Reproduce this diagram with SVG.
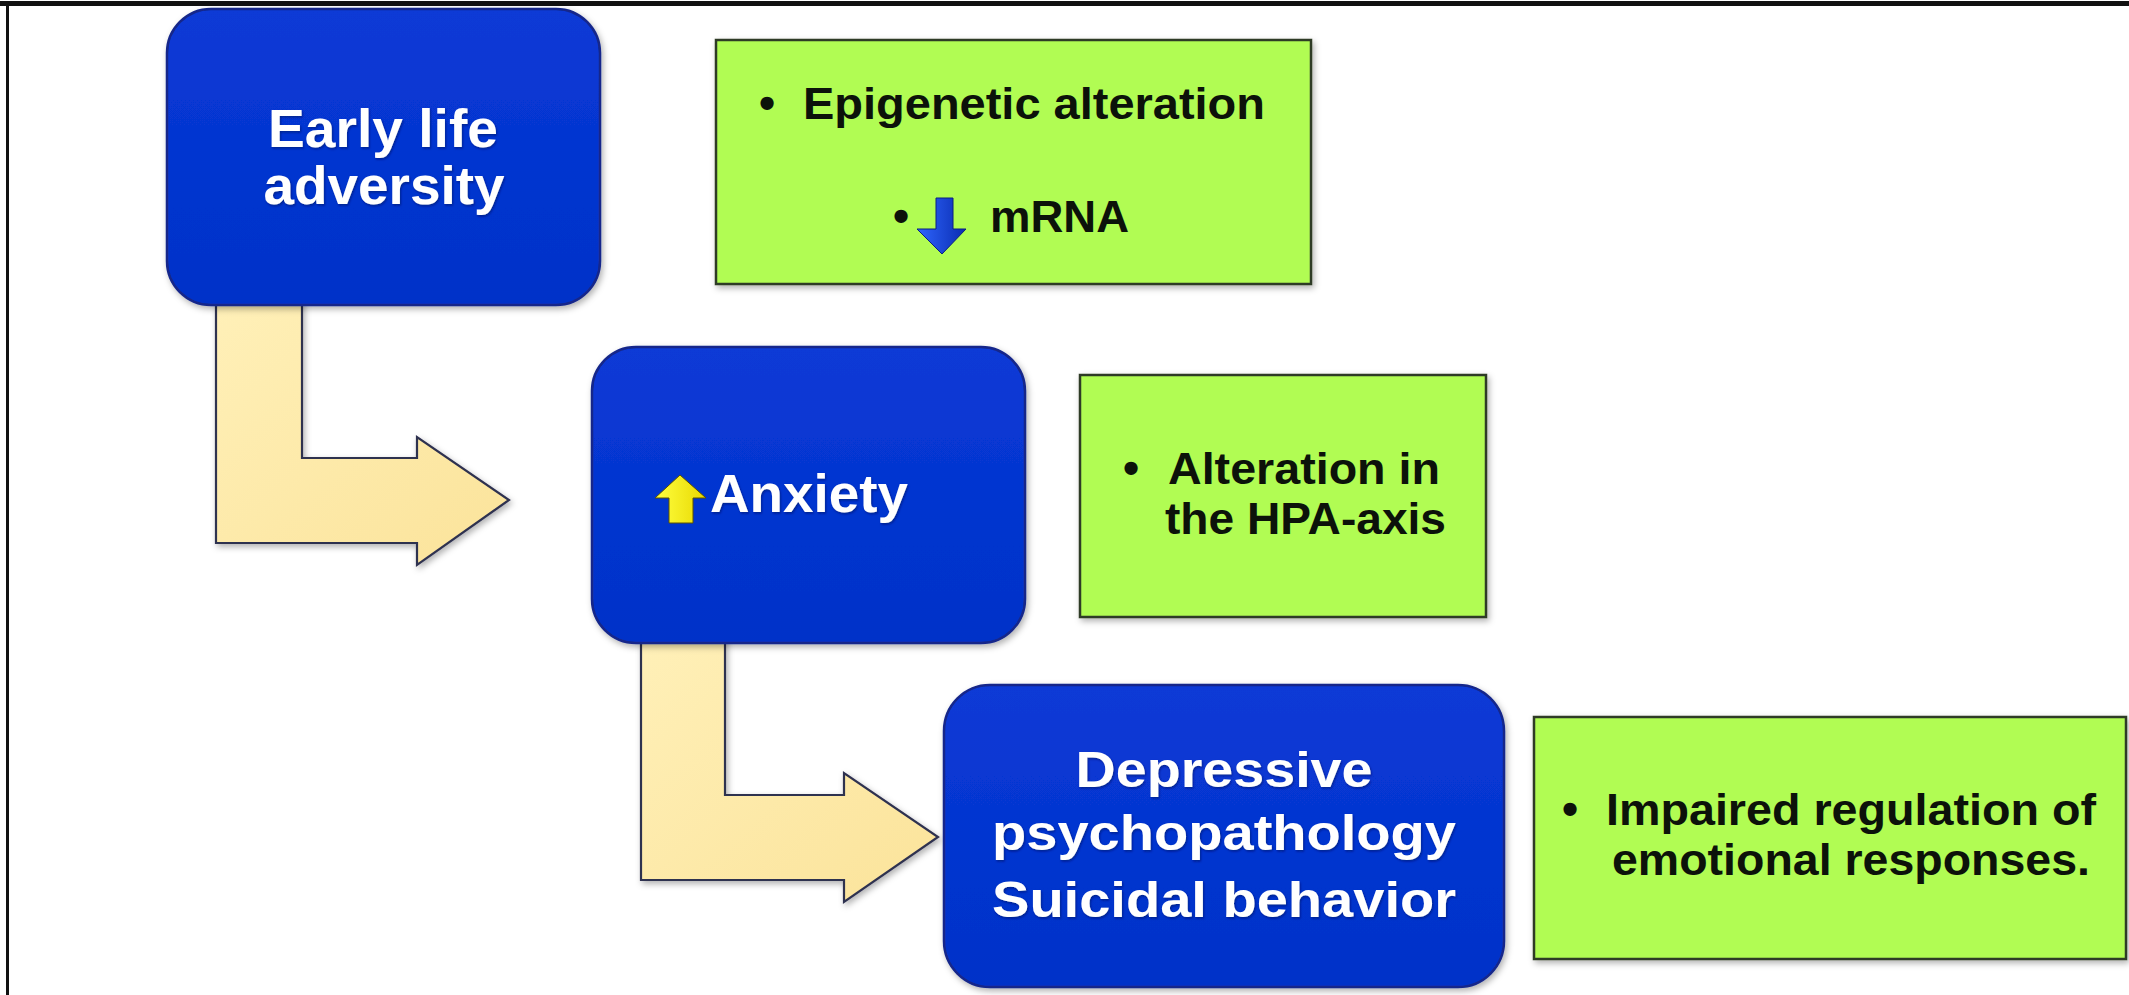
<svg xmlns="http://www.w3.org/2000/svg" width="2129" height="995" viewBox="0 0 2129 995">
<defs>
<style>
.blue{fill:url(#gBlue);stroke:#14288a;stroke-width:2.5}
.green{fill:#b1fc52;stroke:#2f3a28;stroke-width:2.5}
.yarrow{fill:url(#gYel);stroke:#2f3150;stroke-width:2.2;stroke-linejoin:miter}
.wt{font-family:"Liberation Sans",Arial,sans-serif;font-weight:bold;font-size:54px;fill:#ffffff;text-anchor:middle}
.wt3{font-family:"Liberation Sans",Arial,sans-serif;font-weight:bold;font-size:50px;fill:#ffffff;text-anchor:middle}
.bt{font-family:"Liberation Sans",Arial,sans-serif;font-weight:bold;font-size:44px;fill:#0c120a}
.bul{font-family:"Liberation Sans",Arial,sans-serif;font-weight:bold;font-size:46px;fill:#0c120a;text-anchor:middle}
</style>
<linearGradient id="gBlue" x1="0" y1="0" x2="0" y2="1">
<stop offset="0" stop-color="#0a3ad6"/>
<stop offset="0.5" stop-color="#0535d0"/>
<stop offset="1" stop-color="#0332c8"/>
</linearGradient>
<linearGradient id="gYel" x1="0" y1="0" x2="1" y2="1">
<stop offset="0" stop-color="#fff0b8"/>
<stop offset="1" stop-color="#fbe39a"/>
</linearGradient>
<linearGradient id="gDown" x1="0" y1="0" x2="1" y2="0">
<stop offset="0" stop-color="#2f66ff"/>
<stop offset="1" stop-color="#0a2cb0"/>
</linearGradient>
<linearGradient id="gUp" x1="0" y1="0" x2="1" y2="0">
<stop offset="0" stop-color="#ffff40"/>
<stop offset="1" stop-color="#e8d800"/>
</linearGradient>
<filter id="sh" x="-10%" y="-10%" width="120%" height="125%">
<feDropShadow dx="2" dy="3" stdDeviation="3" flood-color="#000" flood-opacity="0.3"/>
</filter>
<filter id="tsh" x="-5%" y="-20%" width="110%" height="140%">
<feDropShadow dx="1" dy="1.5" stdDeviation="1" flood-color="#001060" flood-opacity="0.6"/>
</filter>
</defs>
<rect x="0" y="0" width="2129" height="995" fill="#ffffff"/>
<rect x="0" y="1" width="2129" height="5" fill="#111"/>
<rect x="6" y="1" width="3" height="994" fill="#111"/>

<g id="connectors">
<path class="yarrow" filter="url(#sh)" d="M216,300 L302,300 L302,458 L417,458 L417,437 L509,500 L417,565 L417,543 L216,543 Z"/>
<path class="yarrow" filter="url(#sh)" d="M641,635 L725,635 L725,795 L844,795 L844,773 L938,837 L844,902 L844,880 L641,880 Z"/>
</g>

<g id="node-early-life">
<rect class="blue" filter="url(#sh)" x="167" y="9" width="433" height="296" rx="44" ry="44"/>
<g filter="url(#tsh)">
<text class="wt" x="383" y="147" textLength="230" lengthAdjust="spacingAndGlyphs">Early life</text>
<text class="wt" x="384" y="204" textLength="241" lengthAdjust="spacingAndGlyphs">adversity</text>
</g>
</g>

<g id="node-epigenetic">
<rect class="green" filter="url(#sh)" x="716" y="40" width="595" height="244"/>
<text class="bul" x="767" y="119">•</text>
<text class="bt" x="803" y="119" textLength="462" lengthAdjust="spacingAndGlyphs">Epigenetic alteration</text>
<text class="bul" x="901" y="232">•</text>
<path d="M936,198 L953,198 L953,229 L966,229 L942,254 L917,229 L936,229 Z" fill="url(#gDown)" stroke="#0a1f80" stroke-width="1"/>
<text class="bt" x="990" y="232" textLength="139" lengthAdjust="spacingAndGlyphs">mRNA</text>
</g>

<g id="node-anxiety">
<rect class="blue" filter="url(#sh)" x="592" y="347" width="433" height="296" rx="44" ry="44"/>
<path d="M680,475 L706,498 L693,498 L693,523 L669,523 L669,498 L655,498 Z" fill="url(#gUp)" stroke="#5a5200" stroke-width="1"/>
<g filter="url(#tsh)">
<text class="wt" x="710" y="512" style="text-anchor:start" textLength="198" lengthAdjust="spacingAndGlyphs">Anxiety</text>
</g>
</g>

<g id="node-hpa">
<rect class="green" filter="url(#sh)" x="1080" y="375" width="406" height="242"/>
<text class="bul" x="1131" y="484">•</text>
<text class="bt" x="1168" y="484" textLength="272" lengthAdjust="spacingAndGlyphs">Alteration in</text>
<text class="bt" x="1165" y="534" textLength="281" lengthAdjust="spacingAndGlyphs">the HPA-axis</text>
</g>

<g id="node-depressive">
<rect class="blue" filter="url(#sh)" x="944" y="685" width="560" height="302" rx="46" ry="46"/>
<g filter="url(#tsh)">
<text class="wt3" x="1224" y="787" textLength="297" lengthAdjust="spacingAndGlyphs">Depressive</text>
<text class="wt3" x="1224" y="850" textLength="464" lengthAdjust="spacingAndGlyphs">psychopathology</text>
<text class="wt3" x="1224" y="917" textLength="464" lengthAdjust="spacingAndGlyphs">Suicidal behavior</text>
</g>
</g>

<g id="node-impaired">
<rect class="green" filter="url(#sh)" x="1534" y="717" width="592" height="242"/>
<text class="bul" x="1570" y="825">•</text>
<text class="bt" x="1606" y="825" textLength="490" lengthAdjust="spacingAndGlyphs">Impaired regulation of</text>
<text class="bt" x="1612" y="875" textLength="478" lengthAdjust="spacingAndGlyphs">emotional responses.</text>
</g>
</svg>
